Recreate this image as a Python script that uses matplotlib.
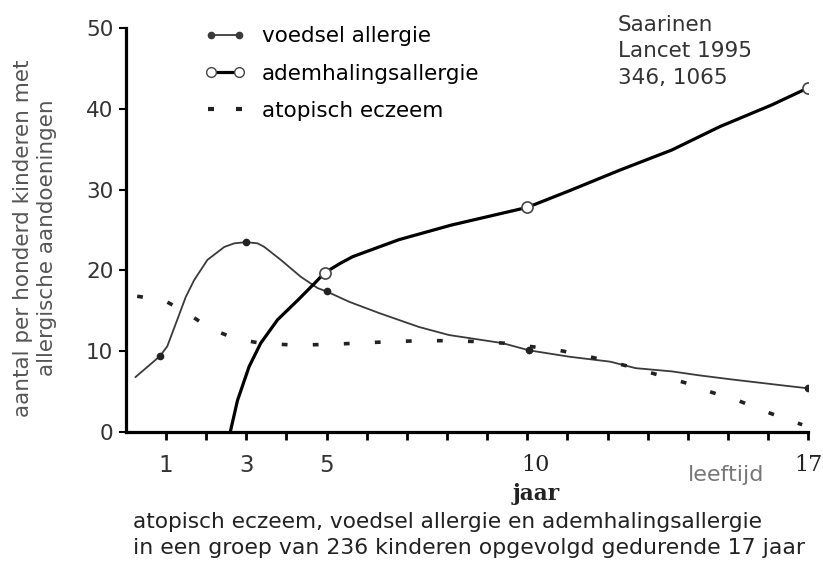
import matplotlib
matplotlib.use("Agg")
import matplotlib.pyplot as plt
from matplotlib.transforms import ScaledTranslation

# leeftijd (jaar) en aantal per honderd kinderen
voedsel_x = [0.24, 0.85, 1.03, 1.28, 1.49, 1.7, 2.03, 2.45, 2.7, 3.0, 3.28, 3.45, 3.86, 4.36,
             4.78, 5.0, 5.57, 6.32, 7.3, 8.05, 9.38, 10.05, 11.07, 12.07, 12.7, 13.6, 14.3,
             15.1, 16.3, 17.0]
voedsel_y = [6.8, 9.4, 10.6, 13.9, 16.7, 18.8, 21.3, 22.9, 23.35, 23.5, 23.35, 22.9, 21.3, 19.2,
             17.8, 17.4, 16.1, 14.7, 13.0, 12.0, 11.0, 10.1, 9.3, 8.7, 7.9, 7.5, 7.0,
             6.5, 5.8, 5.4]
voedsel_mx = [0.85, 3.0, 5.0, 10.05, 17.0]
voedsel_my = [9.4, 23.5, 17.4, 10.1, 5.4]

adem_x = [2.6, 2.78, 3.07, 3.36, 3.78, 4.28, 4.7, 4.95, 5.35, 5.65, 6.8, 8.1, 10.0,
          11.07, 12.3, 13.6, 14.8, 16.1, 17.0]
adem_y = [0.0, 3.9, 8.1, 11.0, 13.9, 16.3, 18.4, 19.7, 20.9, 21.7, 23.8, 25.6, 27.8,
          29.9, 32.4, 34.9, 37.8, 40.5, 42.6]
adem_mx = [4.95, 10.0, 17.0]
adem_my = [19.7, 27.8, 42.6]

eczeem_x = [0.28, 0.95, 1.53, 2.1, 2.7, 3.33, 4.03, 4.7, 5.35, 6.0, 6.7, 7.4, 8.0, 8.7,
            9.4, 10.7, 11.4, 12.07, 12.7, 13.3, 14.0, 14.6, 15.25, 15.9, 16.5, 16.85]
eczeem_y = [16.8, 16.3, 14.7, 12.8, 11.6, 11.0, 10.8, 10.8, 10.9, 11.05, 11.2, 11.3, 11.3, 11.2,
            11.0, 10.2, 9.5, 8.7, 7.9, 7.0, 6.0, 4.9, 3.9, 2.6, 1.5, 0.9]

x_ticks = list(range(1, 18))
x_labels = {1: "1", 3: "3", 5: "5", 10: "10", 17: "17"}
y_ticks = [0, 10, 20, 30, 40, 50]

dots = (0, (1.6, 7.0))

fig = plt.figure(figsize=(8.23, 5.61), dpi=100)
ax = fig.add_axes([0.153, 0.230, 0.829, 0.720])

ax.plot(voedsel_x, voedsel_y, '-', color='#3a3a3a', lw=1.3, zorder=2)
ax.plot(voedsel_mx, voedsel_my, 'o', color='#222222', ms=4.5, zorder=4)
ax.plot(adem_x, adem_y, '-', color='black', lw=2.3, zorder=3)
ax.plot(adem_mx, adem_my, 'o', mfc='white', mec='#444444', mew=1.2, ms=8, zorder=5)
ax.plot(eczeem_x, eczeem_y, color='#222222', lw=2.6, linestyle=dots, zorder=2)

# legenda-handvatten
ax.plot([], [], '-o', color='#3a3a3a', lw=1.3, ms=4.5, label='voedsel allergie')
ax.plot([], [], '-o', color='black', lw=2.3, mfc='white', mec='#444444', ms=7,
        label='ademhalingsallergie')
ax.plot([], [], linestyle='none', marker='_', color='#222222', ms=5, mew=3,
        label='atopisch eczeem')
handles, labels = ax.get_legend_handles_labels()
ax.legend(handles[-3:], labels[-3:], loc='upper left', bbox_to_anchor=(0.249, 0.953),
          bbox_transform=fig.transFigure, frameon=False, numpoints=2, fontsize=15.5,
          handlelength=1.9, handletextpad=0.75, labelspacing=0.8, borderpad=0, borderaxespad=0)

ax.set_xlim(0, 17)
ax.set_ylim(0, 50)
ax.set_xticks(x_ticks)
ax.set_xticklabels([x_labels.get(t, "") for t in x_ticks])
ax.set_yticks(y_ticks)
ax.tick_params(axis='x', length=6, width=2, pad=10, labelsize=16.5, labelcolor='#333333')
ax.tick_params(axis='y', length=5, width=1.5, pad=4, labelsize=15.5, labelcolor='#333333')
for lbl in ax.get_xticklabels():
    if lbl.get_text() in ("10", "17"):
        lbl.set_family('DejaVu Serif')
        lbl.set_fontsize(16)
        lbl.set_color('#222222')
    if lbl.get_text() == "10":
        lbl.set_transform(lbl.get_transform() + ScaledTranslation(0.08, 0, fig.dpi_scale_trans))

for side in ['top', 'right']:
    ax.spines[side].set_visible(False)
for side in ['left', 'bottom']:
    ax.spines[side].set_linewidth(2.3)

fig.text(536 / 823, 1 - 494 / 561, "jaar", family='DejaVu Serif', fontweight='bold',
         fontsize=15.5, ha='center', va='center', color='#222222')
fig.text(726 / 823, 1 - 475 / 561, "leeftijd", fontsize=16, ha='center', va='center',
         color='#777777')

fig.text(35 / 823, 1 - 238 / 561, "aantal per honderd kinderen met\nallergische aandoeningen",
         rotation=90, ha='center', va='center', multialignment='center', fontsize=15.5,
         linespacing=1.3, color='#555555')

fig.text(618 / 823, 1 - 15 / 561, "Saarinen\nLancet 1995\n346, 1065", ha='left', va='top',
         fontsize=15.5, linespacing=1.4, color='#333333')

fig.text(133 / 823, 1 - 522 / 561, "atopisch eczeem, voedsel allergie en ademhalingsallergie",
         ha='left', va='center', fontsize=15.6, color='#222222')
fig.text(133 / 823, 1 - 548 / 561, "in een groep van 236 kinderen opgevolgd gedurende 17 jaar",
         ha='left', va='center', fontsize=15.8, color='#222222')

fig.savefig("out.png", dpi=100)
